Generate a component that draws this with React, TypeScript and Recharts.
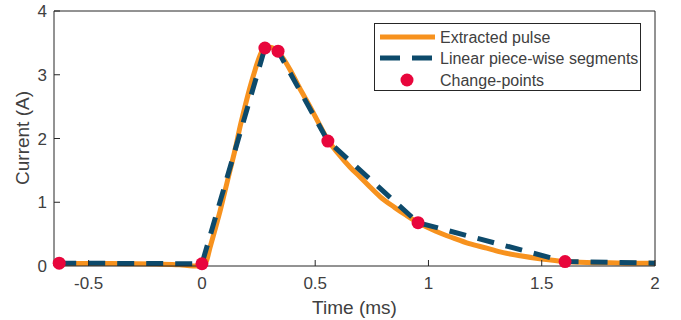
import { ComposedChart, Line, Scatter, XAxis, YAxis } from 'recharts';

// extracted pulse (time in ms, current in A)
const pulseT = [-0.63, -0.5, -0.4, -0.3, -0.2, -0.1, -0.04, 0, 0.02, 0.035, 0.06, 0.08, 0.1, 0.124, 0.15, 0.168, 0.19, 0.212, 0.235, 0.256, 0.275, 0.3, 0.33, 0.36, 0.389, 0.43, 0.477, 0.52, 0.557, 0.6, 0.654, 0.7, 0.742, 0.786, 0.85, 0.9, 0.954, 1.03, 1.109, 1.18, 1.257, 1.33, 1.405, 1.5, 1.603, 1.7, 1.8, 1.9, 2];
const pulseI = [0.04, 0.04, 0.04, 0.035, 0.03, 0.02, 0.0, 0.0, 0.08, 0.28, 0.6, 0.86, 1.15, 1.5, 1.88, 2.18, 2.5, 2.8, 3.08, 3.3, 3.42, 3.43, 3.38, 3.25, 3.08, 2.8, 2.5, 2.21, 1.97, 1.77, 1.55, 1.39, 1.24, 1.09, 0.92, 0.8, 0.68, 0.55, 0.44, 0.35, 0.28, 0.21, 0.16, 0.11, 0.07, 0.055, 0.05, 0.045, 0.045];

// linear piece-wise fit
const segT = [-0.63, 0, 0.278, 0.336, 0.556, 0.954, 1.603, 2];
const segI = [0.045, 0.035, 3.42, 3.37, 1.96, 0.68, 0.07, 0.045];

// change-points
const cpT = [-0.63, 0, 0.278, 0.336, 0.556, 0.954, 1.603];
const cpI = [0.045, 0.035, 3.42, 3.37, 1.96, 0.68, 0.07];

const xTicks = [-0.5, 0, 0.5, 1, 1.5, 2];
const yTicks = [0, 1, 2, 3, 4];

const ORANGE = '#F7921E';
const BLUE = '#0D4A6B';
const RED = '#E8063C';
const AXIS = '#262626';
const TEXT = '#404040';
const FONT = '"Liberation Sans", Arial, Helvetica, sans-serif';

const pulse = pulseT.map((t, k) => ({ t, i: pulseI[k] }));
const segments = segT.map((t, k) => ({ t, i: segI[k] }));
const points = cpT.map((t, k) => ({ t, i: cpI[k] }));

function LegendBox() {
  return (
    <div style={{ position: 'absolute', left: 374, top: 23, width: 265, height: 66, border: `1px solid ${AXIS}`, background: '#fff' }}>
      <svg width={265} height={66} style={{ display: 'block', fontFamily: FONT, fontSize: 16, fill: TEXT }}>
        <line x1={5} y1={13} x2={60} y2={13} stroke={ORANGE} strokeWidth={5} />
        <text x={65} y={19}>Extracted pulse</text>
        <line x1={5} y1={34} x2={60} y2={34} stroke={BLUE} strokeWidth={5} strokeDasharray="20 12" />
        <text x={65} y={40}>Linear piece-wise segments</text>
        <circle cx={32} cy={56} r={6.5} fill={RED} />
        <text x={65} y={62}>Change-points</text>
      </svg>
    </div>
  );
}

export default function App() {
  const tickStyle = { fontFamily: FONT, fontSize: 17, fill: TEXT };
  return (
    <div style={{ position: 'relative', width: 681, height: 320 }}>
      <style>{'body{margin:0}'}</style>
      <ComposedChart width={681} height={320} margin={{ top: 10, right: 25, bottom: 0, left: 0 }}>
        <XAxis
          xAxisId="main"
          dataKey="t"
          type="number"
          domain={[-0.653, 2]}
          ticks={xTicks}
          height={54}
          tickSize={-6}
          tickMargin={17}
          stroke={AXIS}
          tick={tickStyle}
          label={() => (
            <text x={354.5} y={314} textAnchor="middle" style={{ fontFamily: FONT, fontSize: 19, fill: TEXT }}>
              Time (ms)
            </text>
          )}
        />
        <XAxis
          xAxisId="top"
          orientation="top"
          dataKey="t"
          type="number"
          domain={[-0.653, 2]}
          ticks={xTicks}
          height={1}
          tickSize={-6}
          tick={false}
          stroke={AXIS}
        />
        <YAxis
          yAxisId="main"
          type="number"
          domain={[0, 4]}
          ticks={yTicks}
          width={54}
          tickSize={-6}
          tickMargin={13}
          stroke={AXIS}
          tick={tickStyle}
          label={() => (
            <text x={29} y={138} textAnchor="middle" transform="rotate(-90, 29, 138)" style={{ fontFamily: FONT, fontSize: 19, fill: TEXT }}>
              Current (A)
            </text>
          )}
        />
        <YAxis
          yAxisId="right"
          orientation="right"
          type="number"
          domain={[0, 4]}
          ticks={yTicks}
          width={1}
          tickSize={-6}
          tick={false}
          stroke={AXIS}
        />
        {/* invisible series so the box axes (top/right) get drawn */}
        <Line
          xAxisId="top"
          yAxisId="right"
          data={segments}
          dataKey="i"
          stroke="none"
          dot={false}
          activeDot={false}
          isAnimationActive={false}
        />
        <Line
          xAxisId="main"
          yAxisId="main"
          data={pulse}
          dataKey="i"
          type="monotone"
          stroke={ORANGE}
          strokeWidth={5}
          dot={false}
          isAnimationActive={false}
        />
        <Line
          xAxisId="main"
          yAxisId="main"
          data={segments}
          dataKey="i"
          type="linear"
          stroke={BLUE}
          strokeWidth={5}
          strokeDasharray="17 12"
          dot={false}
          isAnimationActive={false}
        />
        <Scatter
          xAxisId="main"
          yAxisId="main"
          data={points}
          dataKey="i"
          fill={RED}
          shape={(p: any) => <circle cx={p.cx} cy={p.cy} r={6.5} fill={RED} />}
          isAnimationActive={false}
        />
      </ComposedChart>
      <LegendBox />
    </div>
  );
}
